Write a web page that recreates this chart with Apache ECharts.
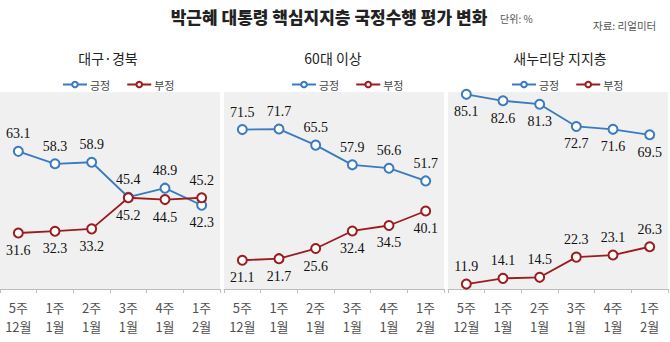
<!DOCTYPE html>
<html><head><meta charset="utf-8">
<script src="https://cdn.jsdelivr.net/npm/echarts@6/dist/echarts.min.js"></script>
<style>html,body{margin:0;padding:0;background:#fff}#c{width:670px;height:342px}</style>
</head><body><div id="c"></div>
<script>
// ---- data ----
var categories = ['5주\n12월', '1주\n1월', '2주\n1월', '3주\n1월', '4주\n1월', '1주\n2월'];
var panelTitles = ['대구·경북', '60대 이상', '새누리당 지지층'];
var seriesNames = ['긍정', '부정'];
var daeguPositive = [63.1, 58.3, 58.9, 45.4, 48.9, 42.3];
var daeguNegative = [31.6, 32.3, 33.2, 45.2, 44.5, 45.2];
var over60Positive = [71.5, 71.7, 65.5, 57.9, 56.6, 51.7];
var over60Negative = [21.1, 21.7, 25.6, 32.4, 34.5, 40.1];
var saenuriPositive = [85.1, 82.6, 81.3, 72.7, 71.6, 69.5];
var saenuriNegative = [11.9, 14.1, 14.5, 22.3, 23.1, 26.3];

// ---- styling / layout ----
var T = 'top', B = 'bottom';
var labelPos = [
  [[T,T,T,T,T,B],[B,B,B,B,B,T]],
  [[T,T,T,T,T,T],[B,B,B,B,B,B]],
  [[B,B,B,B,B,B],[T,T,T,T,T,T]]
];
var panelValues = [
  [daeguPositive, daeguNegative],
  [over60Positive, over60Negative],
  [saenuriPositive, saenuriNegative]
];
var gridLefts = [0, 224, 448];
var gridW = 220;
var titleCenters = [108, 333, 560];
var legendLefts = [57, 286, 506];
var colors = ['#3a7bc0', '#9b1c1f'];
var FONT = '"Noto Sans CJK KR", "Noto Sans", sans-serif';

var grids = [], xAxes = [], yAxes = [], series = [], legends = [], graphics = [];
for (var p = 0; p < 3; p++) {
  grids.push({left: gridLefts[p], width: gridW, top: 92, height: 197, show: true,
    backgroundColor: '#f0f0f0', borderWidth: 0, containLabel: false});
  xAxes.push({type: 'category', gridIndex: p, data: categories, boundaryGap: true,
    axisLine: {lineStyle: {color: '#bdbdbd', width: 1}},
    axisTick: {show: true, length: 4, lineStyle: {color: '#bdbdbd'}},
    axisLabel: {fontFamily: FONT, fontSize: 13, color: '#505050', lineHeight: 19, margin: 9}});
  yAxes.push({type: 'value', gridIndex: p, min: 10, max: 86, show: false, splitLine: {show: false}});
  for (var s = 0; s < 2; s++) {
    var vals = panelValues[p][s];
    var data = vals.map(function (v, i) {
      return {value: v, label: {position: labelPos[p][s][i]}};
    });
    series.push({
      type: 'line', name: seriesNames[s], xAxisIndex: p, yAxisIndex: p, data: data,
      symbol: 'emptyCircle', symbolSize: 9, z: 2 + s,
      itemStyle: {color: colors[s], borderWidth: 2.5},
      lineStyle: {color: colors[s], width: 1.8},
      label: {show: true, fontFamily: '"Liberation Serif", "DejaVu Serif", serif',
        fontSize: 14, color: '#111', distance: 5,
        formatter: function (d) { return d.value.toFixed(1); }},
      emphasis: {disabled: true},
      animation: false
    });
  }
  legends.push({left: legendLefts[p], top: 74, data: seriesNames, selectedMode: false,
    itemWidth: 24, itemHeight: 7, itemGap: 16,
    textStyle: {fontFamily: FONT, fontSize: 11, color: '#444', padding: [0,0,0,-2]}});
  graphics.push({type: 'text', x: titleCenters[p], y: 58,
    style: {text: panelTitles[p], font: '14px ' + FONT, fill: '#222', align: 'center', verticalAlign: 'middle'}});
}
graphics.push({type: 'text', x: 329, y: 16,
  style: {text: '박근혜 대통령 핵심지지층 국정수행 평가 변화', font: '900 17px ' + FONT, fill: '#222', align: 'center', verticalAlign: 'middle'}});
graphics.push({type: 'text', x: 500, y: 18,
  style: {text: '단위: %', font: '10px ' + FONT, fill: '#555', align: 'left', verticalAlign: 'middle'}});
graphics.push({type: 'text', x: 593, y: 25,
  style: {text: '자료: 리얼미터', font: '10.5px ' + FONT, fill: '#555', align: 'left', verticalAlign: 'middle'}});

var chart = echarts.init(document.getElementById('c'), null, {renderer: 'svg'});
chart.setOption({
  animation: false,
  grid: grids, xAxis: xAxes, yAxis: yAxes, series: series, legend: legends, graphic: graphics
});
</script></body></html>
